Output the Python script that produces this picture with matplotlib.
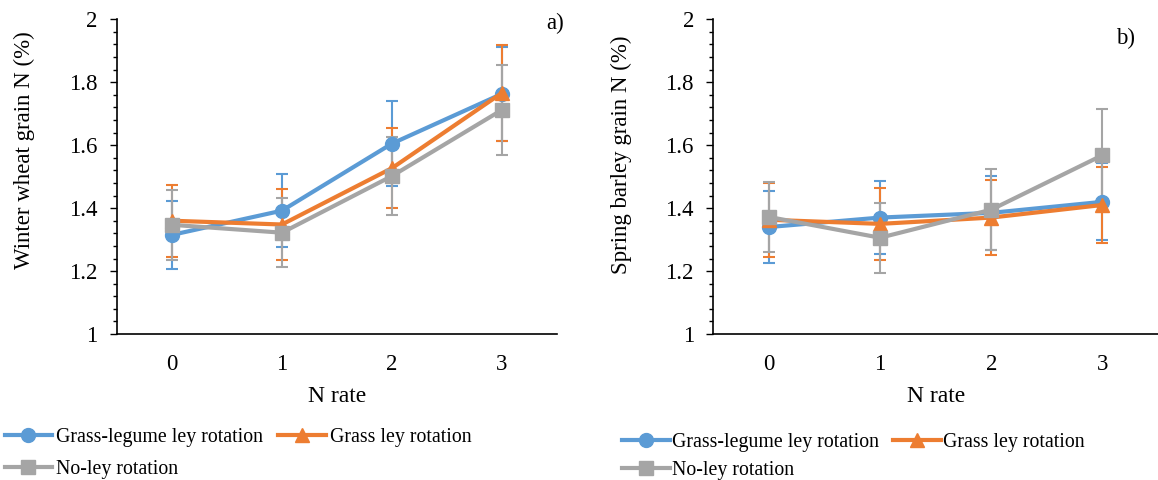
import numpy as np
import matplotlib.pyplot as plt
from matplotlib.ticker import MultipleLocator, FormatStrFormatter

plt.rcParams['font.family'] = ['Liberation Serif', 'DejaVu Serif']

n_rate = ['0', '1', '2', '3']
labels = ['Grass-legume ley rotation', 'Grass ley rotation', 'No-ley rotation']

# winter wheat (panel a)
wheat_gl = [1.315, 1.392, 1.605, 1.763]
wheat_gl_err = [0.107, 0.117, 0.135, 0.150]
wheat_g = [1.360, 1.348, 1.527, 1.766]
wheat_g_err = [0.115, 0.113, 0.128, 0.152]
wheat_no = [1.347, 1.322, 1.502, 1.712]
wheat_no_err = [0.112, 0.110, 0.125, 0.143]

# spring barley (panel b)
barley_gl = [1.340, 1.370, 1.385, 1.420]
barley_gl_err = [0.115, 0.116, 0.117, 0.122]
barley_g = [1.363, 1.350, 1.370, 1.410]
barley_g_err = [0.117, 0.115, 0.118, 0.121]
barley_no = [1.372, 1.306, 1.395, 1.568]
barley_no_err = [0.110, 0.111, 0.128, 0.148]

colors = ['#5B9BD5', '#ED7D31', '#A5A5A5']
markers = ['o', '^', 's']

fig = plt.figure(figsize=(11.58, 4.8), dpi=100)
ax1 = fig.add_axes([0.101, 0.304, 0.380, 0.656])
ax2 = fig.add_axes([0.616, 0.304, 0.384, 0.656])


def draw(ax, series, errs, ylabel, ylab_xy, tag, tag_xy):
    x = np.arange(len(n_rate))
    handles = []
    for vals, err, c, m, lab in zip(series, errs, colors, markers, labels):
        ax.errorbar(x, vals, yerr=err, fmt='none', ecolor=c, elinewidth=1.5,
                    capsize=4, capthick=1.5, zorder=2)
        h, = ax.plot(x, vals, color=c, marker=m, markersize=10, linewidth=3,
                     label=lab, zorder=3)
        handles.append(h)
    ax.set_xlim(-0.5, 3.5)
    ax.set_ylim(1, 2)
    ax.set_xticks(x)
    ax.set_xticklabels(n_rate)
    ax.tick_params(axis='x', length=0, labelsize=16.5, pad=14)
    ax.yaxis.set_major_locator(MultipleLocator(0.2))
    ax.yaxis.set_minor_locator(MultipleLocator(0.04))
    ax.yaxis.set_major_formatter(FormatStrFormatter('%g'))
    ax.tick_params(axis='y', which='major', length=5, width=1, labelsize=16.5, pad=9)
    ax.tick_params(axis='y', which='minor', length=3, width=1)
    for s in ['top', 'right']:
        ax.spines[s].set_visible(False)
    for s in ['left', 'bottom']:
        ax.spines[s].set_linewidth(1.2)
    ax.set_xlabel('N rate', fontsize=17, labelpad=8)
    ax.set_ylabel(ylabel, fontsize=16.5)
    ax.yaxis.set_label_coords(*ylab_xy)
    ax.text(tag_xy[0], tag_xy[1], tag, transform=ax.transAxes, fontsize=16.5,
            ha='left', va='center')
    return handles


h1 = draw(ax1, [wheat_gl, wheat_g, wheat_no], [wheat_gl_err, wheat_g_err, wheat_no_err],
          'Winter wheat grain N (%)', (-0.186, 0.584), 'a)', (0.975, 0.985))
h2 = draw(ax2, [barley_gl, barley_g, barley_no], [barley_gl_err, barley_g_err, barley_no_err],
          'Spring barley grain N (%)', (-0.182, 0.571), 'b)', (0.905, 0.94))

legend_specs = [(h1, (-0.008, -0.026), 0.65, 0.2), (h2, (0.525, -0.028), 0.45, 0.1)]
for h, anchor, spacing, tpad in legend_specs:
    fig.legend([h[0], h[2], h[1]], [labels[0], labels[2], labels[1]], ncol=2,
               loc='lower left', bbox_to_anchor=anchor, frameon=False,
               fontsize=14.3, handlelength=2.4, handletextpad=tpad,
               columnspacing=0.75, labelspacing=spacing, borderaxespad=0.3)

fig.savefig('out.png', dpi=100)
